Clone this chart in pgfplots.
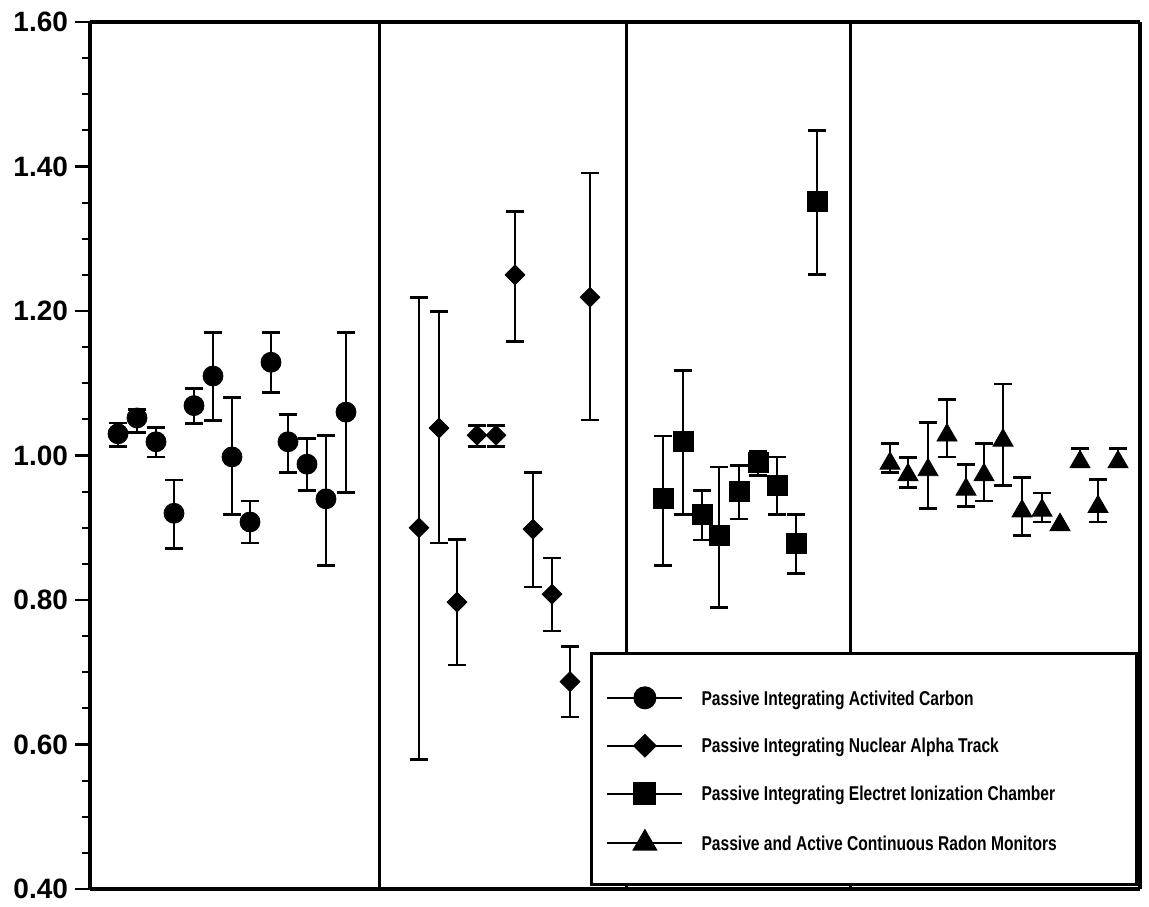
\documentclass[border=0pt]{standalone}
\usepackage{fontspec}
\setmainfont{Liberation Sans}
\newfontfamily\legfont{Liberation Sans}[FakeStretch=0.78]
\usepackage{pgfplots}
\usepackage{pgfplotstable}
\pgfplotsset{compat=1.18}

\pgfplotstableread{
x y hi lo
118 1.030 1.045 1.012
137 1.052 1.064 1.032
156 1.019 1.039 0.998
174 0.920 0.966 0.871
194 1.069 1.093 1.044
213 1.110 1.170 1.048
232 0.998 1.080 0.918
250 0.908 0.937 0.879
271 1.129 1.170 1.087
288 1.019 1.057 0.977
307 0.988 1.023 0.951
326 0.940 1.028 0.848
346 1.060 1.170 0.949
}\tabA

\pgfplotstableread{
x y hi lo
419 0.900 1.219 0.579
439 1.038 1.199 0.879
457 0.797 0.884 0.710
477 1.028 1.042 1.012
496 1.028 1.042 1.012
515 1.250 1.338 1.158
533 0.898 0.976 0.818
552 0.808 0.858 0.757
570 0.687 0.736 0.638
590 1.219 1.391 1.049
}\tabB

\pgfplotstableread{
x y hi lo
663 0.940 1.027 0.848
683 1.019 1.118 0.918
702 0.919 0.952 0.883
719 0.889 0.984 0.790
739 0.950 0.986 0.912
758 0.990 1.005 0.972
777 0.959 0.998 0.918
796 0.879 0.918 0.837
817 1.351 1.450 1.250
}\tabC

\pgfplotstableread{
x y hi lo
890 0.989 1.017 0.977
908 0.973 0.997 0.956
928 0.980 1.046 0.927
947 1.028 1.078 0.998
966 0.953 0.987 0.929
984 0.973 1.017 0.937
1003 1.021 1.099 0.958
1022 0.923 0.969 0.889
1042 0.924 0.948 0.908
1080 0.991 1.010 0.985
1098 0.929 0.967 0.908
1118 0.991 1.010 0.985
}\tabD

\pgfplotstableread{
x y
1060 0.904
}\tabDnb

\pgfplotsset{
  ebar/.style={error bars/.cd, y dir=both, y explicit,
    error bar style={line width=1.2pt, black},
    error mark options={rotate=90, line width=1.4pt, mark size=4.3pt, black}},
  /pgfplots/table/errtab/.style={x=x, y=y, y error plus expr=\thisrow{hi}-\thisrow{y}, y error minus expr=\thisrow{y}-\thisrow{lo}}
}

\begin{document}
\begin{tikzpicture}
\begin{axis}[
  name=ax,
  scale only axis,
  width=525pt, height=433.5pt,
  xmin=90, xmax=1140, ymin=0.4, ymax=1.6,
  xtick=\empty,
  ytick={0.4,0.6,0.8,1.0,1.2,1.4,1.6},
  minor y tick num=3,
  ytick pos=left,
  tick align=outside,
  major tick length=7.5pt,
  minor tick length=4pt,
  tick style={black, line width=1.1pt},
  separate axis lines,
  every outer x axis line/.append style={line width=1.8pt},
  every outer y axis line/.append style={line width=1.8pt},
  /pgf/number format/assume math mode=true,
  yticklabel style={font=\fontsize{14}{14}\selectfont\bfseries,
    /pgf/number format/fixed, /pgf/number format/fixed zerofill,
    /pgf/number format/precision=2},
  legend style={at={(0.476,0.273)}, anchor=north west, draw=black,
    line width=1.5pt, fill=white,
    inner xsep=7.5pt, inner ysep=17pt,
    nodes={inner sep=0pt, text depth=0pt},
    column sep=9pt, row sep=14pt,
    font=\legfont\bfseries\fontsize{10}{11}\selectfont},
  legend cell align=left,
  legend image code/.code={
    \draw[line width=1.1pt, black] (0pt,0pt) -- (37.5pt,0pt);
    \draw[#1] plot coordinates {(18.75pt,0pt)};
  },
]
\draw[line width=1.5pt] (axis cs:379,0.4) -- (axis cs:379,1.6);
\draw[line width=1.5pt] (axis cs:626,0.4) -- (axis cs:626,1.6);
\draw[line width=1.5pt] (axis cs:850,0.4) -- (axis cs:850,1.6);

\addplot[black, only marks, mark=*, mark size=5pt, ebar] table[errtab] {\tabA};
\addlegendentry{\makebox[210pt][l]{Passive Integrating Activited Carbon}}
\addplot[black, only marks, mark=square*, mark size=3.5pt, mark options={rotate=45}, ebar] table[errtab] {\tabB};
\addlegendentry{Passive Integrating Nuclear Alpha Track}
\addplot[black, only marks, mark=square*, mark size=5pt, ebar] table[errtab] {\tabC};
\addlegendentry{Passive Integrating Electret Ionization Chamber}
\addplot[black, only marks, mark=triangle*, mark size=5.8pt, ebar] table[errtab] {\tabD};
\addlegendentry{Passive and Active Continuous Radon Monitors}
\addplot[black, only marks, mark=triangle*, mark size=5.8pt, forget plot] table[x=x,y=y] {\tabDnb};
\end{axis}
\pgfresetboundingbox
\path[use as bounding box] ([xshift=-45pt,yshift=-9pt]ax.south west) rectangle ([xshift=4.5pt,yshift=11pt]ax.north east);
\end{tikzpicture}
\end{document}
